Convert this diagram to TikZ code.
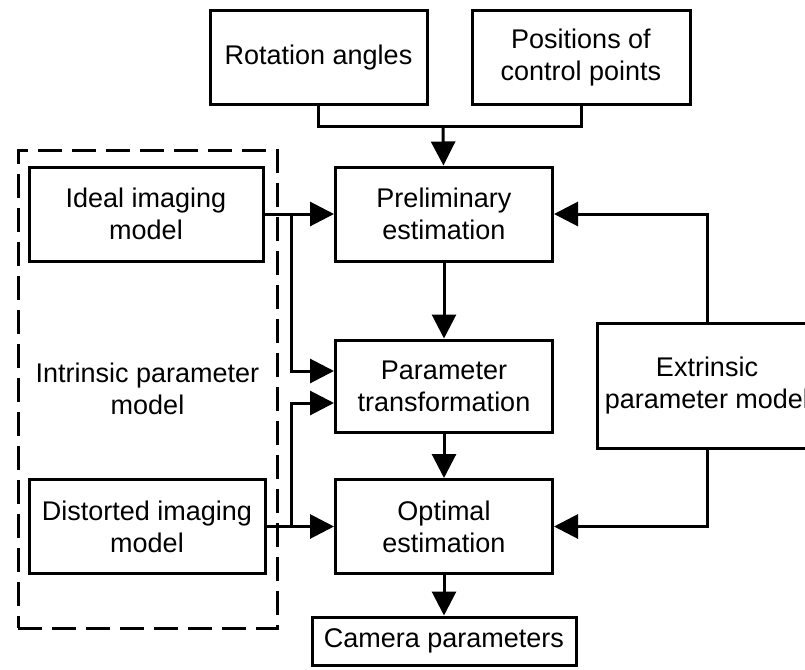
\documentclass[tikz,border=0pt]{standalone}
\usepackage{fontspec}
\setmainfont{Liberation Sans}
\usetikzlibrary{arrows.meta}

\begin{document}
\begin{tikzpicture}[x=0.5pt,y=-0.5pt,line width=1.5pt,
  >={Triangle[length=12pt,width=12pt]},
  block/.style={draw,align=center,inner sep=0pt,minimum width=108.5pt,minimum height=47pt,
    font=\fontsize{13.5}{16}\selectfont},
  group/.style={draw,dashed,dash pattern=on 12pt off 5pt,align=center,
    minimum width=129.5pt,minimum height=239pt,font=\fontsize{13.5}{16}\selectfont}]

\useasboundingbox (0,0) rectangle (805,670);
\clip (0,0) rectangle (805,670);

\node[group]                            (INT) at (147.5,389)  {Intrinsic parameter\\model};
\node[block]                            (ROT) at (318.5,57.5) {Rotation angles};
\node[block,minimum width=109pt]        (POS) at (581,57.5)   {Positions of\\control points};
\node[block]                            (PRE) at (444,214)    {Preliminary\\estimation};
\node[block,minimum height=46pt]        (PAR) [below of=PRE,node distance=86pt] {Parameter\\transformation};
\node[block]                            (OPT) [below of=PAR,node distance=70.25pt] {Optimal\\estimation};
\node[block,minimum width=132pt,minimum height=24pt] (CAM) [below of=OPT,node distance=57.25pt] {Camera parameters};
\node[block,minimum width=117pt]        (IDE) at (146,214)    {Ideal imaging\\model};
\node[block,minimum width=118pt]        (DIS) at (147,526.5)  {Distorted imaging\\model};
\node[block,minimum width=110pt,minimum height=62.5pt] (EXT) at (707,385.5) {Extrinsic\\parameter model};

\coordinate (J)  at (443,126);
\coordinate (B1) at (291,214);
\coordinate (B2) at (291,526.5);

\draw (ROT.south) |- (J) -| (POS.south);
\draw[->] (J) -- (PRE);
\draw[->] (IDE) -- (PRE);
\draw[->] (B1) |- ([yshift=7.5pt]PAR.west);
\draw[->] (DIS) -- (OPT);
\draw[->] (B2) |- ([yshift=-8.5pt]PAR.west);
\draw[->] (EXT) |- (PRE);
\draw[->] (EXT) |- (OPT);
\draw[->] (PRE) -- (PAR);
\draw[->] (PAR) -- (OPT);
\draw[->] (OPT) -- (CAM);
\end{tikzpicture}
\end{document}
